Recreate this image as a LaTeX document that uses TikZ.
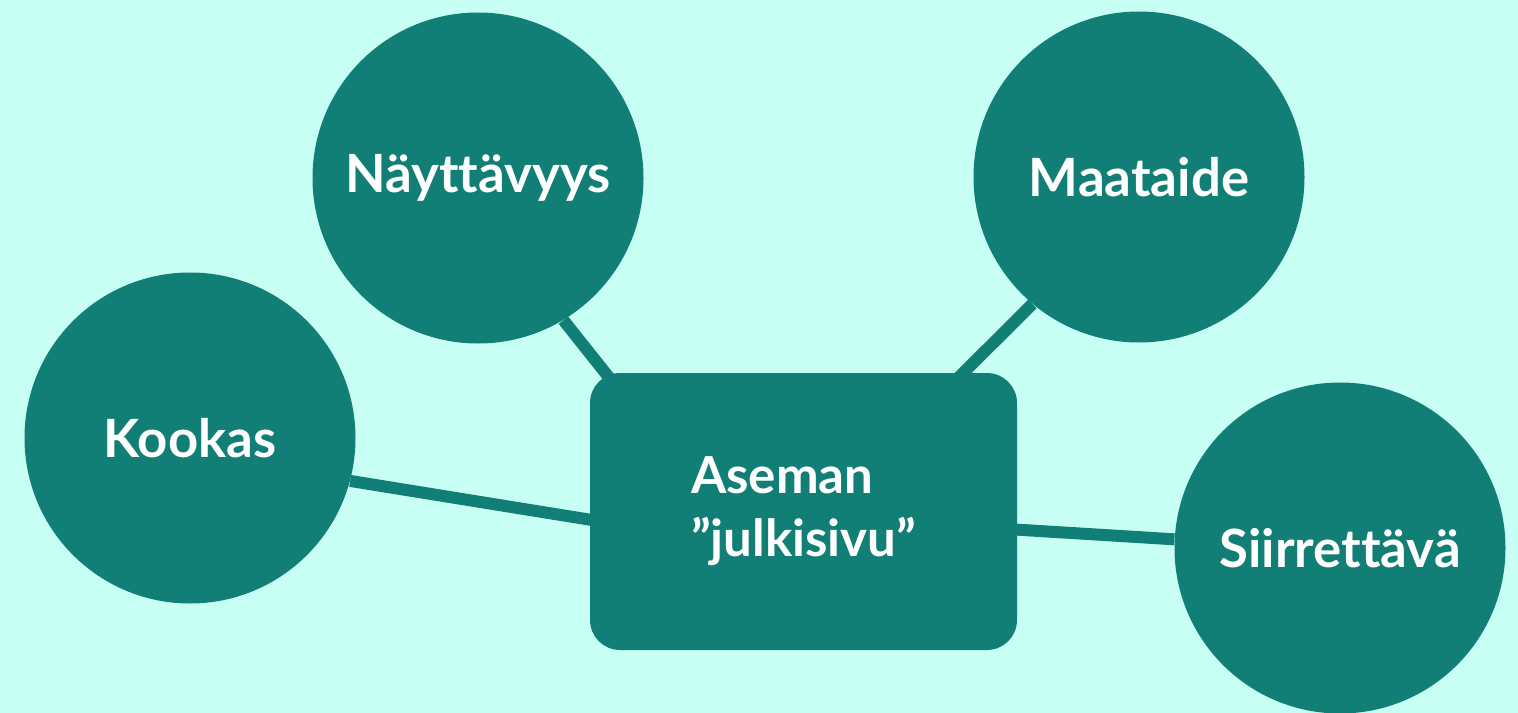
\documentclass[tikz,border=0pt]{standalone}
\usepackage{fontspec}
\setmainfont{Lato}[Ligatures={NoCommon,NoRare}]
\usetikzlibrary{calc,backgrounds}
\definecolor{bgmint}{HTML}{C8FFF4}
\definecolor{teal}{HTML}{127F77}
\begin{document}
\begin{tikzpicture}[
  bubble/.style={circle, fill=teal, minimum size=6.62cm, inner sep=0pt, text=white, font=\bfseries\fontsize{30}{36}\selectfont},
  hub/.style={rectangle, rounded corners=0.6cm, fill=teal, minimum width=8.54cm, minimum height=5.54cm, text=white, align=left, font=\bfseries\fontsize{29}{36}\selectfont},
  link/.style={draw=teal, line width=0.24cm}
]
\begin{pgfonlayer}{background}
\fill[bgmint] (0,0) rectangle (30.36,-14.26);
\end{pgfonlayer}
\useasboundingbox (0,0) rectangle (30.36,-14.26);
\node[hub] (box) at (16.07,-10.23){Aseman\\”julkisivu”};
\node[bubble] (nay) at (9.56,-3.56){Näyttävyys};
\node[bubble] (maa) at (22.78,-3.54){Maataide};
\node[bubble] (koo) at (3.80,-8.76){Kookas};
\node[bubble] (sii) at (26.80,-10.96){Siirrettävä};
\begin{pgfonlayer}{background}
\draw[link](nay.-59) -- ($(box.north west)+(0.74,-0.54)$);
\draw[link](maa.-130) -- ($(box.north east)+(-1.54,-0.46)$);
\draw[link](koo.-15.7) -- ($(box.west)+(0.6,-0.26)$);
\draw[link](sii.177.5) -- ($(box.east)+(-0.54,-0.33)$);
\end{pgfonlayer}

\end{tikzpicture}
\end{document}
